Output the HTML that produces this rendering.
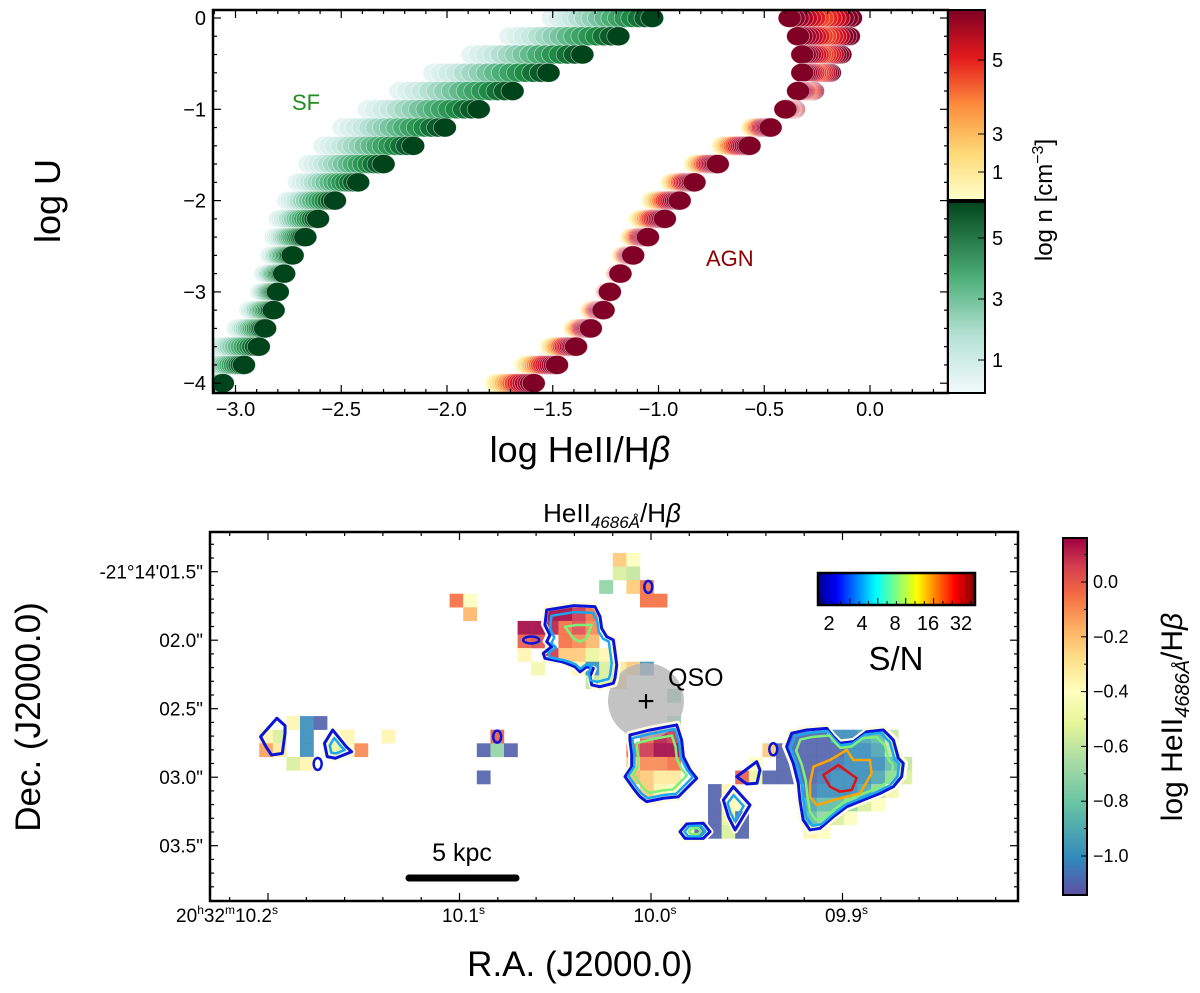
<!DOCTYPE html>
<html><head><meta charset="utf-8"><style>
html,body{margin:0;padding:0;background:#fff}
svg{display:block;font-family:"Liberation Sans","DejaVu Sans",sans-serif}
</style></head><body>
<svg id="fig" width="1200" height="993" viewBox="0 0 1200 993" xmlns="http://www.w3.org/2000/svg">
<defs>
<linearGradient id="gRed" x1="0" y1="1" x2="0" y2="0"><stop offset="0" stop-color="#ffffcc"/><stop offset="0.25" stop-color="#fed976"/><stop offset="0.5" stop-color="#fd8d3c"/><stop offset="0.75" stop-color="#e31a1c"/><stop offset="1" stop-color="#800026"/></linearGradient>
<linearGradient id="gGreen" x1="0" y1="1" x2="0" y2="0"><stop offset="0" stop-color="#f2fafb"/><stop offset="0.3" stop-color="#b4e2d4"/><stop offset="0.6" stop-color="#4daf78"/><stop offset="1" stop-color="#00441b"/></linearGradient>
<linearGradient id="gSpec" x1="0" y1="1" x2="0" y2="0"><stop offset="0" stop-color="#5e4fa2"/><stop offset="0.1" stop-color="#3288bd"/><stop offset="0.25" stop-color="#66c2a5"/><stop offset="0.38" stop-color="#abdda4"/><stop offset="0.48" stop-color="#e6f598"/><stop offset="0.57" stop-color="#ffffbf"/><stop offset="0.66" stop-color="#fee08b"/><stop offset="0.75" stop-color="#fdae61"/><stop offset="0.84" stop-color="#f46d43"/><stop offset="0.92" stop-color="#d53e4f"/><stop offset="1" stop-color="#9e0142"/></linearGradient>
<linearGradient id="gJet" x1="0" y1="0" x2="1" y2="0"><stop offset="0" stop-color="#00008f"/><stop offset="0.12" stop-color="#0000ff"/><stop offset="0.37" stop-color="#00ffff"/><stop offset="0.5" stop-color="#80ff80"/><stop offset="0.63" stop-color="#ffff00"/><stop offset="0.87" stop-color="#ff0000"/><stop offset="1" stop-color="#800000"/></linearGradient>
<clipPath id="clipTop"><rect x="213" y="10" width="735" height="383"/></clipPath>
<clipPath id="clipBot"><rect x="210" y="532" width="808" height="369"/></clipPath>
</defs>
<g id="topPanel"></g>
<g id="botPanel"></g>
</svg>
<script>
// ---------- TOP PANEL DATA ----------
const logU = [0,-0.2,-0.4,-0.6,-0.8,-1.0,-1.2,-1.4,-1.6,-1.8,-2.0,-2.2,-2.4,-2.6,-2.8,-3.0,-3.2,-3.4,-3.6,-3.8,-4.0];
const sfDense = [-1.03,-1.19,-1.36,-1.52,-1.69,-1.85,-2.01,-2.16,-2.30,-2.42,-2.53,-2.61,-2.67,-2.73,-2.77,-2.80,-2.82,-2.86,-2.89,-2.96,-3.06];
const sfLow = [-1.50,-1.70,-1.88,-2.06,-2.22,-2.37,-2.49,-2.58,-2.65,-2.70,-2.75,-2.79,-2.81,-2.83,-2.86,-2.88,-2.93,-2.99,-3.09,-3.12,-3.12];
const agnDense = [-0.38,-0.34,-0.32,-0.32,-0.34,-0.40,-0.47,-0.57,-0.72,-0.83,-0.90,-0.97,-1.05,-1.12,-1.18,-1.23,-1.26,-1.32,-1.39,-1.48,-1.59];
const agnLow = [-0.09,-0.10,-0.14,-0.19,-0.27,-0.36,-0.56,-0.70,-0.83,-0.94,-1.03,-1.09,-1.13,-1.17,-1.20,-1.25,-1.32,-1.40,-1.51,-1.63,-1.77];
const topXTicks = [-3.0,-2.5,-2.0,-1.5,-1.0,-0.5,0.0];
const topYTicks = [0,-1,-2,-3,-4];

// ---------- BOTTOM PANEL DATA ----------
const mapPixels = [
[-2,-14,-0.3],[-1,-14,-0.5],[-2,-13,-0.65],[-1,-13,-0.7],
[-3,-12,-0.8],[-1,-12,-0.3],[0,-12,-0.1],[0,-11,-0.1],[1,-11,-0.1],
[-14,-11,-0.1],[-13,-11,-0.5],[-13,-10,-0.25],
[-7,-10,0.15],[-6,-10,0.15],[-5,-10,0.05],[-4,-10,-0.1],
[-9,-9,0.15],[-8,-9,0.15],[-7,-9,0.1],[-6,-9,-0.1],[-5,-9,0.0],[-4,-9,-0.15],
[-9,-8,-0.05],[-8,-8,0.0],[-6,-8,-0.1],[-5,-8,-0.15],[-4,-8,-0.25],
[-9,-7,-0.45],[-7,-7,0.05],[-6,-7,-0.3],[-5,-7,-0.3],[-4,-7,-0.6],[-3,-7,-0.45],
[-8,-6,-0.55],[-5,-6,-0.45],[-4,-6,-1.0],[-3,-6,-0.65],[-2,-6,-0.4],[-1,-6,-0.3],[0,-6,-1.0],
[-4,-5,-0.7],[-3,-5,-0.65],[-2,-5,-0.3],[2,-4,-0.85],[2,-2,-0.8],
[0,-1,-0.05],[1,-1,0.1],[2,-1,0.05],
[-1,0,-0.05],[0,0,0.05],[1,0,0.15],[2,0,0.15],
[-1,1,-0.3],[0,1,-0.15],[1,1,-0.15],[2,1,-0.1],
[-1,2,-0.25],[0,2,-0.3],[1,2,-0.4],[2,2,-0.4],
[0,3,-0.3],[1,3,-0.45],[2,3,-0.5],
[7,2,-0.05],[8,1,-0.5],[8,2,-0.6],[9,0,-0.3],[9,2,-1.1],[10,0,-1.1],[10,1,-1.1],[10,2,-1.1],
[5,3,-1.1],[6,3,-0.45],[5,4,-1.1],[6,4,-0.45],[7,4,-0.5],[5,5,-1.1],[6,5,-0.6],[7,5,-1.1],
[3,6,-0.55],[4,6,-1.1],[5,6,-1.1],[6,6,-0.65],[7,6,-1.1],
[11,-1,-1.1],[12,-1,-1.1],[13,-1,-1.1],[14,-1,-1.0],[15,-1,-1.0],[16,-1,-0.95],[17,-1,-0.9],[18,-1,-0.7],
[11,0,-1.1],[12,0,-1.1],[13,0,-1.1],[14,0,-1.1],[15,0,-1.0],[16,0,-1.0],[17,0,-0.95],[18,0,-0.7],
[11,1,-1.1],[12,1,-1.1],[13,1,-1.1],[14,1,-1.05],[15,1,-1.0],[16,1,-1.0],[17,1,-1.0],[18,1,-0.9],[19,1,-0.7],
[11,2,-1.1],[12,2,-1.1],[13,2,-1.05],[14,2,-1.0],[15,2,-1.0],[16,2,-1.0],[17,2,-0.95],[18,2,-0.8],[19,2,-0.65],
[12,3,-1.05],[13,3,-1.0],[14,3,-1.0],[15,3,-1.0],[16,3,-0.95],[17,3,-0.8],[18,3,-0.55],
[12,4,-0.95],[13,4,-0.9],[14,4,-0.9],[15,4,-0.8],[16,4,-0.65],[17,4,-0.5],
[12,5,-0.9],[13,5,-0.8],[14,5,-0.65],[15,5,-0.5],[12,6,-0.45],[13,6,-0.5],
[-26,-2,-0.45],[-25,-2,-1.0],[-24,-2,-1.1],
[-28,-1,-0.45],[-27,-1,-0.65],[-25,-1,-1.0],[-23,-1,-0.5],[-22,-1,-0.45],[-19,-1,-0.45],
[-28,0,-0.2],[-27,0,-0.4],[-25,0,-1.0],[-23,0,-0.6],[-22,0,-0.5],[-21,0,-0.15],
[-26,1,-0.65],[-25,1,-0.45],
[-11,-1,-0.05],[-12,0,-1.1],[-11,0,-0.8],[-10,0,-1.1],[-12,2,-1.1]
];
const cbTicks = [0.0,-0.2,-0.4,-0.6,-0.8,-1.0];
const decTicks = [1.5,2.0,2.5,3.0,3.5];
const raTicks = [10.2,10.1,10.0,9.9];
const snTicks = ["2","4","8","16","32"];
const contourNW = [[-6.86,-9.8],[-4.9,-10.12],[-3.31,-10.05],[-2.94,-9.31],[-2.82,-8.45],[-2.45,-7.84],[-1.96,-7.6],[-1.84,-6.74],[-1.71,-5.76],[-1.84,-4.78],[-1.96,-4.41],[-2.94,-4.16],[-3.55,-4.29],[-3.68,-4.9],[-3.43,-5.51],[-3.92,-5.63],[-4.41,-5.26],[-4.78,-5.63],[-5.39,-5.88],[-5.76,-6.0],[-6.37,-6.12],[-6.99,-6.25],[-7.11,-6.62],[-6.49,-7.1],[-6.86,-7.47],[-6.62,-7.96],[-6.99,-8.7]];
const contourNWgreen = [[-5.51,-8.57],[-4.66,-8.7],[-3.55,-8.7],[-3.92,-7.72],[-4.41,-7.47],[-4.9,-7.72]];
const contourS = [[-0.74,-0.61],[0.74,-0.98],[2.7,-1.35],[3.06,-0.24],[3.19,0.98],[3.68,1.96],[4.17,2.57],[3.43,3.31],[2.82,3.93],[1.72,4.04],[0.49,4.29],[0,3.93],[-0.49,3.31],[-1.1,2.45],[-0.61,1.72],[-0.61,0.74],[-0.74,-0.24]];
const contourE = [[11.15,-0.74],[12.25,-0.98],[13.73,-1.1],[14.22,-0.49],[14.7,0],[15.69,-0.12],[16.67,-0.85],[17.89,-0.98],[18.63,-0.24],[19.0,1.1],[19.36,1.47],[19.24,2.45],[18.63,3.19],[17.65,3.68],[16.42,4.17],[15.2,4.66],[14.22,5.4],[13.24,6.25],[12.5,6.37],[12.0,5.64],[11.76,4.17],[11.64,2.94],[11.27,1.47],[10.78,0.25]];
const contourEorange = [[12.75,1.72],[13.97,1.23],[15.2,0.49],[15.69,1.23],[16.91,1.23],[17.03,2.21],[16.18,3.68],[14.22,4.17],[13.0,4.54],[12.5,3.93],[12.5,2.94]];
const contourEred = [[13.48,2.33],[14.58,1.6],[15.93,2.57],[15.56,3.43],[14.7,3.55],[13.97,3.19]];
const contourM1 = [[7.11,2.45],[8.58,1.35],[8.82,1.96],[8.6,2.94],[7.84,2.99]];
const contourM2 = [[6.13,4.17],[6.86,3.19],[8.09,4.54],[6.99,6.37],[6.5,5.4]];
const contourM3 = [[2.94,6.5],[3.43,5.93],[4.66,5.88],[5.15,6.5],[4.66,6.99],[3.31,6.99]];
const contourL1 = [[-27.9,-0.49],[-26.7,-1.84],[-26.1,-1.3],[-26.1,-0.74],[-26.3,0.74],[-27.1,0.86],[-27.5,0.25]];
const contourL2 = [[-23.2,0],[-22.6,-0.98],[-21.6,0.25],[-21.2,0.62],[-22.4,1.1],[-23.0,0.98]];
const tinyBlobs = [[0.61,-11.5],[-8.0,-7.6],[9.8,0.44],[-23.7,1.52],[-10.5,-0.49]];

const NS='http://www.w3.org/2000/svg';
function mk(tag,attrs,parent){const e=document.createElementNS(NS,tag);for(const k in attrs)e.setAttribute(k,attrs[k]);parent.appendChild(e);return e;}
function hex(h){return [parseInt(h.slice(1,3),16),parseInt(h.slice(3,5),16),parseInt(h.slice(5,7),16)];}
function cmap(stops,t){t=Math.max(0,Math.min(1,t));const n=stops.length-1;const i=Math.min(n-1,Math.floor(t*n));const f=t*n-i;const a=hex(stops[i]),b=hex(stops[i+1]);return 'rgb('+a.map((v,k)=>Math.round(v+(b[k]-v)*f)).join(',')+')';}
const greens=['#e6f5f3','#c7e9df','#8fd0b7','#4daf78','#1d8a45','#00441b'];
const reds=['#ffffcc','#fed976','#fd8d3c','#e31a1c','#b10026','#800026'];
const spectral=['#5e4fa2','#3288bd','#66c2a5','#abdda4','#e6f598','#ffffbf','#fee08b','#fdae61','#f46d43','#d53e4f','#9e0142'];
const fmt=v=>(v<0?'\u2212':'')+Math.abs(v).toFixed(1);

(function(){
// ===== TOP =====
const topG=document.getElementById('topPanel');
const X=v=>870+211.5*v, Y=u=>18-91.3*u;
const pts=mk('g',{'clip-path':'url(#clipTop)'},topG);


function drawSeries(low,dense,cols,name,twoEnded){
  const g=mk('g',{},pts);
  
  
  const N=16;
  logU.forEach((u,i)=>{const rev=twoEnded&&dense[i]<low[i]-0.02;
    for(let k=0;k<N;k++){const t=k/(N-1);const x=low[i]+(dense[i]-low[i])*t;
    const ct=rev?Math.max(t,0.35+0.65*(1-t)*(1-t)*1.0+(t<0.15?0.5:0)):t;
    const c=mk('ellipse',{cx:X(x),cy:Y(u),rx:11.5,ry:9.5,fill:cmap(cols,Math.min(1,ct)),stroke:'rgba(255,255,255,0.55)','stroke-width':0.7},g);
    
    }});
}
drawSeries(sfLow,sfDense,greens,'sf-series',false);
drawSeries(agnLow,agnDense,reds,'agn-series',true);
const fr=mk('rect',{x:213,y:10,width:735,height:383,fill:'none',stroke:'#000','stroke-width':2.5},topG);

for(let j=-31;j<=3;j++){const x=X(j/10);const maj=j%5===0;const L=maj?8:4;
  mk('line',{x1:x,y1:393,x2:x,y2:393-L,stroke:'#000','stroke-width':1.2},topG);mk('line',{x1:x,y1:10,x2:x,y2:10+L,stroke:'#000','stroke-width':1.2},topG);}
for(let j=0;j>=-20;j--){const y=Y(j/5);const maj=j%5===0;const L=maj?8:4;
  mk('line',{x1:213,y1:y,x2:213+L,y2:y,stroke:'#000','stroke-width':1.2},topG);mk('line',{x1:948,y1:y,x2:948-L,y2:y,stroke:'#000','stroke-width':1.2},topG);}
topXTicks.forEach(v=>{const t=mk('text',{x:X(v),y:416,'font-size':20,'text-anchor':'middle'},topG);t.textContent=fmt(v);
  });
topYTicks.forEach(v=>{const t=mk('text',{x:206,y:Y(v)+7,'font-size':20,'text-anchor':'end'},topG);t.textContent=v===0?'0':'\u2212'+Math.abs(v);
  });
const cb1=mk('rect',{x:948,y:10,width:37,height:191,fill:'url(#gRed)',stroke:'#000','stroke-width':2},topG);

const cb2=mk('rect',{x:948,y:201,width:37,height:192,fill:'url(#gGreen)',stroke:'#000','stroke-width':2},topG);

mk('line',{x1:948,y1:201,x2:985,y2:201,stroke:'#000','stroke-width':4},topG);
[[5,60],[3,134],[1,172],[5,238],[3,299],[1,360]].forEach(p=>{const t=mk('text',{x:992,y:p[1]+7,'font-size':20},topG);t.textContent=p[0];
  
  mk('line',{x1:985,y1:p[1],x2:978,y2:p[1],stroke:'#000','stroke-width':1},topG);});
function T(txt,attrs,name){const e=mk('text',attrs,topG);e.textContent=txt;return e;}
T('SF',{x:292,y:110,'font-size':22,fill:'#228b22'},'sf-label');
T('AGN',{x:706,y:266,'font-size':22,fill:'#8b0000'},'agn-label');
T('log U',{x:0,y:0,'font-size':36,'text-anchor':'middle',transform:'translate(60,201) rotate(-90)'},'y-axis-title');
const xl=mk('text',{x:580,y:462,'font-size':36,'text-anchor':'middle'},topG);

xl.innerHTML='log HeII/H<tspan font-style="italic">β</tspan>';
const cl=mk('text',{x:0,y:0,'font-size':24,'text-anchor':'middle',transform:'translate(1052,200) rotate(-90)'},topG);

cl.innerHTML='log n [cm<tspan font-size="16" dy="-9">−3</tspan><tspan dy="9">]</tspan>';

// ===== BOTTOM =====
const botG=document.getElementById('botPanel');
const PX=c=>640+13.6*c, PY=r=>743.3+13.6*r;
const g=mk('g',{'clip-path':'url(#clipBot)'},botG);
mapPixels.forEach(p=>{const r=mk('rect',{x:PX(p[0]),y:PY(p[1]),width:13.8,height:13.8,fill:cmap(spectral,(p[2]+1.14)/1.3),opacity:0.9},g);
  });
const qc=mk('circle',{cx:646,cy:701,r:38,fill:'#b4b4b4',opacity:0.8},botG);

const qp=mk('text',{x:646,y:711,'font-size':30,'text-anchor':'middle'},botG);qp.textContent='+';

const qt=mk('text',{x:668,y:686,'font-size':25},botG);qt.textContent='QSO';

const cg=mk('g',{'clip-path':'url(#clipBot)',fill:'none','stroke-linejoin':'round'},botG);
function poly(pl,color,w,s,name){let cx=0,cy=0;pl.forEach(p=>{cx+=p[0];cy+=p[1]});cx/=pl.length;cy/=pl.length;
  const d=pl.map(p=>PX(cx+(p[0]-cx)*s)+','+PY(cy+(p[1]-cy)*s)).join(' ');
  const e=mk('polygon',{points:d,stroke:color,'stroke-width':w},cg);}
const B='#0a14d8',C='#1aa7f0',G='#7ef07a',O='#ffa500',R='#e01010';
[contourNW,contourS,contourE,contourM2,contourM3,contourL2].forEach(c=>{poly(c,'#fffbe0',6,1.03,'contour-halo');});
[[contourNW,[B,C],[1,0.86]],[contourS,[B,C,G],[1,0.9,0.75]],[contourE,[B,C,G],[1,0.93,0.83]],[contourM2,[B,C],[1,0.6]],[contourM3,[B,C,G],[1,0.7,0.4]],[contourL2,[B,C],[1,0.55]],[contourM1,[B],[1]],[contourL1,[B],[1]]].forEach(e=>{
  e[1].forEach((col,i)=>poly(e[0],col,i?2.5:3,e[2][i],'sn-contour'));});
poly(contourNWgreen,G,2.5,1,'sn-contour');poly(contourEorange,O,2.5,1,'sn-contour');poly(contourEred,R,2.5,1,'sn-contour');
tinyBlobs.forEach(p=>{const wide=p[0]<-7&&p[0]>-9;const e=mk('ellipse',{cx:PX(p[0]),cy:PY(p[1]),rx:wide?8:4,ry:wide?3.5:6,stroke:B,'stroke-width':2.5},cg);
  });
const f2=mk('rect',{x:210,y:532,width:808,height:369,fill:'none',stroke:'#000','stroke-width':2.5},botG);

const Yd=s=>571.7+(s-1.5)*137, Xr=s=>651+(10.0-s)*1915;
for(let k=-4;k<=27;k++){const y=Yd(1.5+k*0.1);if(y<533||y>900)continue;const L=(k%5===0)?8:4;
  mk('line',{x1:210,y1:y,x2:210+L,y2:y,stroke:'#000','stroke-width':1.2},botG);mk('line',{x1:1018,y1:y,x2:1018-L,y2:y,stroke:'#000','stroke-width':1.2},botG);}
for(let k=-3;k<=22;k++){const x=Xr(10.2-k*0.02);if(x<211||x>1017)continue;const L=(k%5===0)?8:4;
  mk('line',{x1:x,y1:901,x2:x,y2:901-L,stroke:'#000','stroke-width':1.2},botG);mk('line',{x1:x,y1:532,x2:x,y2:532+L,stroke:'#000','stroke-width':1.2},botG);}
decTicks.forEach((s,i)=>{const t=mk('text',{x:203,y:Yd(s)+7,'font-size':19,'text-anchor':'end'},botG);
  t.textContent=(i===0?"-21°14'":"")+'0'+s.toFixed(1)+'"';});
raTicks.forEach((s,i)=>{const t=mk('text',{x:i===0?Xr(s)+10:Xr(s)+4,y:922,'font-size':19,'text-anchor':i===0?'end':'middle'},botG);
  const str=(s<10?'0':'')+s.toFixed(1);
  t.innerHTML=(i===0?'20<tspan font-size="12" dy="-8">h</tspan><tspan dy="8">32</tspan><tspan font-size="12" dy="-8">m</tspan><tspan dy="8">'+str+'</tspan>':str)+'<tspan font-size="12" dy="-8">s</tspan>';
  });
const tt=mk('text',{x:612,y:522,'font-size':26,'text-anchor':'middle'},botG);
tt.innerHTML='HeII<tspan font-size="17" dy="6" font-style="italic">4686Å</tspan><tspan dy="-6">/H</tspan><tspan font-style="italic">β</tspan>';

const dl=mk('text',{x:0,y:0,'font-size':35,'text-anchor':'middle',transform:'translate(40,717) rotate(-90)'},botG);dl.textContent='Dec. (J2000.0)';

const rl=mk('text',{x:580,y:976,'font-size':35,'text-anchor':'middle'},botG);rl.textContent='R.A. (J2000.0)';

const sb=mk('line',{x1:409,y1:878,x2:516,y2:878,stroke:'#000','stroke-width':7,'stroke-linecap':'round'},botG);

const st=mk('text',{x:462,y:861,'font-size':25,'text-anchor':'middle'},botG);st.textContent='5 kpc';

const sn=mk('rect',{x:818,y:573,width:157,height:32,fill:'url(#gJet)',stroke:'#000','stroke-width':2.5},botG);

for(let i=0;i<=16;i++){const x=822+i*9.3;mk('line',{x1:x,y1:605,x2:x,y2:i%3===0?598:601,stroke:'#000','stroke-width':1},botG);}
snTicks.forEach((s,i)=>{const t=mk('text',{x:829+i*33,y:630,'font-size':20,'text-anchor':'middle'},botG);t.textContent=s;
  });
const snl=mk('text',{x:896,y:670,'font-size':33,'text-anchor':'middle'},botG);snl.textContent='S/N';

const mc=mk('rect',{x:1063,y:538,width:24,height:357,fill:'url(#gSpec)',stroke:'#000','stroke-width':2},botG);

const CY=v=>582-274*v;
cbTicks.forEach(v=>{const y=CY(v);mk('line',{x1:1087,y1:y,x2:1081,y2:y,stroke:'#000','stroke-width':1},botG);
  const t=mk('text',{x:1093,y:y+6,'font-size':18},botG);t.textContent=fmt(v);
  });
for(let j=0;j<6;j++){const y=CY(0.1-0.2*j);mk('line',{x1:1087,y1:y,x2:1084,y2:y,stroke:'#000','stroke-width':1},botG);}
const ml=mk('text',{x:0,y:0,'font-size':30,'text-anchor':'middle',transform:'translate(1182,717) rotate(-90)'},botG);
ml.innerHTML='log HeII<tspan font-size="20" dy="7" font-style="italic">4686Å</tspan><tspan dy="-7">/H</tspan><tspan font-style="italic">β</tspan>';

})();
</script>
</body></html>
